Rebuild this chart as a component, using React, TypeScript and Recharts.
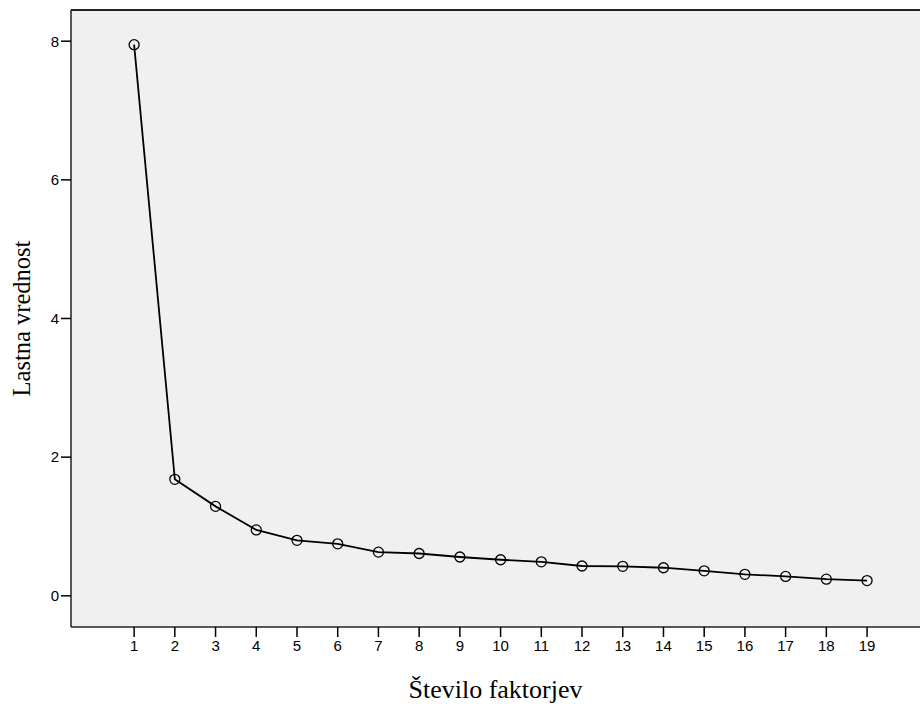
import { LineChart, Line, XAxis, YAxis, CartesianGrid, ReferenceLine, Label } from "recharts";

const factors = [1, 2, 3, 4, 5, 6, 7, 8, 9, 10, 11, 12, 13, 14, 15, 16, 17, 18, 19];
const eigenvalues = [7.95, 1.68, 1.29, 0.95, 0.8, 0.75, 0.63, 0.61, 0.56, 0.52, 0.49, 0.43, 0.425, 0.405, 0.36, 0.31, 0.28, 0.24, 0.22];
const yTicks = [0, 2, 4, 6, 8];

const data = factors.map((f, i) => ({ factor: f, value: eigenvalues[i] }));

export default function App() {
  return (
    <div style={{ position: "absolute", left: 0, top: 0, width: 920, height: 704, background: "#fff" }}>
      <LineChart width={920} height={704} data={data} margin={{ top: 10, right: 0, bottom: 0, left: 0 }}>
        <CartesianGrid fill="#F0F0F0" horizontal={false} vertical={false} />
        <XAxis
          type="number"
          dataKey="factor"
          domain={[-0.55, 20.3]}
          ticks={factors}
          allowDataOverflow
          height={77}
          axisLine={{ stroke: "#222", strokeWidth: 1.5 }}
          tickLine={{ stroke: "#000", strokeWidth: 1.5 }}
          tickSize={10}
          tickMargin={3}
          tick={{ fill: "#000", fontSize: 15, fontFamily: "Liberation Sans, Arial, sans-serif" }}
        >
          <Label
            value="Število faktorjev"
            position="insideBottom"
            offset={6}
            style={{ fill: "#000", fontSize: 26, fontFamily: "Liberation Serif, Times New Roman, serif" }}
          />
        </XAxis>
        <YAxis
          type="number"
          domain={[-0.45, 8.45]}
          ticks={yTicks}
          allowDataOverflow
          width={71}
          axisLine={{ stroke: "#222", strokeWidth: 1.5 }}
          tickLine={{ stroke: "#000", strokeWidth: 1.5 }}
          tickSize={10}
          tickMargin={2}
          tick={{ fill: "#000", fontSize: 15, fontFamily: "Liberation Sans, Arial, sans-serif" }}
        >
          <Label
            value="Lastna vrednost"
            angle={-90}
            position="insideLeft"
            offset={21}
            style={{ textAnchor: "middle", fill: "#000", fontSize: 24.5, fontFamily: "Liberation Serif, Times New Roman, serif" }}
          />
        </YAxis>
        <ReferenceLine y={8.45} stroke="#222" strokeWidth={2} />
        <Line
          type="linear"
          dataKey="value"
          stroke="#000"
          strokeWidth={1.8}
          dot={{ r: 5, stroke: "#000", strokeWidth: 1.3, fill: "none" }}
          isAnimationActive={false}
        />
      </LineChart>
    </div>
  );
}
